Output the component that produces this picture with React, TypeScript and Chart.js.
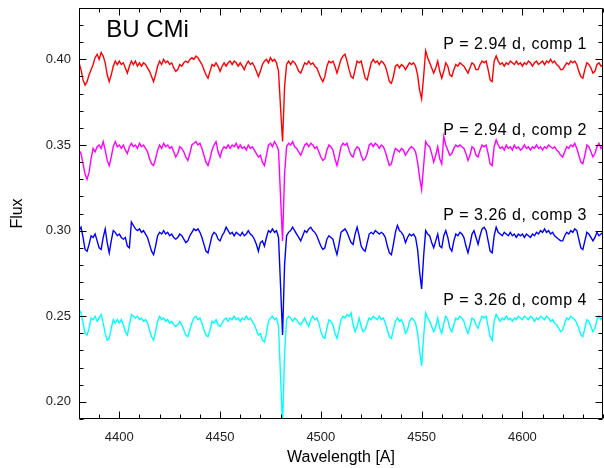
import React, { useEffect, useRef } from "react";
import { Chart, registerables } from "chart.js";

Chart.register(...registerables);

const X_MIN = 4380;
const X_MAX = 4640;
const Y_MIN = 0.19;
const Y_MAX = 0.43;

const X_TICKS = [4400, 4450, 4500, 4550, 4600];
const X_MINOR = [4380, 4390, 4400, 4410, 4420, 4430, 4440, 4450, 4460, 4470, 4480, 4490, 4500, 4510, 4520, 4530, 4540, 4550, 4560, 4570, 4580, 4590, 4600, 4610, 4620, 4630, 4640];
const Y_TICKS = [0.2, 0.25, 0.3, 0.35, 0.4];
const Y_MINOR = [0.19, 0.2, 0.21, 0.22, 0.23, 0.24, 0.25, 0.26, 0.27, 0.28, 0.29, 0.3, 0.31, 0.32, 0.33, 0.34, 0.35, 0.36, 0.37, 0.38, 0.39, 0.4, 0.41, 0.42, 0.43];

const TITLE = "BU CMi";
const TITLE_X = 4393.5;
const TITLE_Y = 0.413;

const SERIES_NAMES = ["P = 2.94 d, comp 1", "P = 2.94 d, comp 2", "P = 3.26 d, comp 3", "P = 3.26 d, comp 4"];
const SERIES_COLORS = ["#ff0000", "#ff00ff", "#0000ff", "#00ffff"];
const LABEL_X = 4632;
const LABEL_Y = [0.406, 0.356, 0.306, 0.2565];

const WAVELENGTH = [
  4380, 4381, 4382, 4383, 4384, 4385, 4386, 4387, 4388, 4389,
  4390, 4391, 4392, 4393, 4394, 4395, 4396, 4397, 4398, 4399,
  4400, 4401, 4402, 4403, 4404, 4405, 4406, 4407, 4408, 4409,
  4410, 4411, 4412, 4413, 4414, 4415, 4416, 4417, 4418, 4419,
  4420, 4421, 4422, 4423, 4424, 4425, 4426, 4427, 4428, 4429,
  4430, 4431, 4432, 4433, 4434, 4435, 4436, 4437, 4438, 4439,
  4440, 4441, 4442, 4443, 4444, 4445, 4446, 4447, 4448, 4449,
  4450, 4451, 4452, 4453, 4454, 4455, 4456, 4457, 4458, 4459,
  4460, 4461, 4462, 4463, 4464, 4465, 4466, 4467, 4468, 4469,
  4470, 4471, 4472, 4473, 4474, 4475, 4476, 4477, 4478, 4479,
  4480, 4481, 4482, 4483, 4484, 4485, 4486, 4487, 4488, 4489,
  4490, 4491, 4492, 4493, 4494, 4495, 4496, 4497, 4498, 4499,
  4500, 4501, 4502, 4503, 4504, 4505, 4506, 4507, 4508, 4509,
  4510, 4511, 4512, 4513, 4514, 4515, 4516, 4517, 4518, 4519,
  4520, 4521, 4522, 4523, 4524, 4525, 4526, 4527, 4528, 4529,
  4530, 4531, 4532, 4533, 4534, 4535, 4536, 4537, 4538, 4539,
  4540, 4541, 4542, 4543, 4544, 4545, 4546, 4547, 4548, 4549,
  4550, 4551, 4552, 4553, 4554, 4555, 4556, 4557, 4558, 4559,
  4560, 4561, 4562, 4563, 4564, 4565, 4566, 4567, 4568, 4569,
  4570, 4571, 4572, 4573, 4574, 4575, 4576, 4577, 4578, 4579,
  4580, 4581, 4582, 4583, 4584, 4585, 4586, 4587, 4588, 4589,
  4590, 4591, 4592, 4593, 4594, 4595, 4596, 4597, 4598, 4599,
  4600, 4601, 4602, 4603, 4604, 4605, 4606, 4607, 4608, 4609,
  4610, 4611, 4612, 4613, 4614, 4615, 4616, 4617, 4618, 4619,
  4620, 4621, 4622, 4623, 4624, 4625, 4626, 4627, 4628, 4629,
  4630, 4631, 4632, 4633, 4634, 4635, 4636, 4637, 4638, 4639,
  4640,
];

const COMP1 = [
  .398, .394, .388, .385, .387, .391, .394, .397, .401, .403,
  .400, .404, .402, .398, .391, .387, .391, .396, .399, .397,
  .399, .397, .398, .395, .392, .396, .399, .397, .399, .396,
  .398, .396, .398, .397, .395, .393, .390, .387, .391, .396,
  .399, .397, .400, .398, .399, .397, .398, .395, .393, .394,
  .397, .396, .398, .399, .398, .400, .401, .400, .402, .401,
  .399, .397, .394, .391, .389, .393, .397, .396, .398, .396,
  .393, .396, .398, .396, .398, .399, .397, .399, .398, .396,
  .398, .396, .394, .397, .399, .397, .398, .396, .393, .390,
  .393, .397, .399, .400, .398, .401, .399, .400, .398, .393,
  .372, .352, .384, .397, .399, .397, .399, .398, .396, .393,
  .392, .395, .398, .397, .399, .397, .398, .396, .395, .392,
  .389, .387, .390, .396, .399, .398, .399, .396, .392, .396,
  .400, .402, .403, .399, .394, .390, .389, .394, .399, .398,
  .399, .394, .389, .388, .393, .398, .400, .398, .399, .397,
  .399, .398, .396, .392, .387, .386, .390, .396, .397, .395,
  .397, .396, .394, .396, .398, .397, .398, .396, .391, .382,
  .377, .390, .405, .401, .398, .395, .392, .395, .399, .393,
  .389, .393, .398, .396, .391, .390, .394, .397, .396, .398,
  .397, .396, .394, .392, .395, .398, .397, .394, .394, .397,
  .399, .398, .399, .394, .388, .387, .399, .402, .399, .397,
  .398, .396, .398, .397, .399, .398, .397, .399, .397, .398,
  .396, .398, .397, .399, .398, .396, .398, .399, .397, .398,
  .399, .397, .399, .398, .400, .398, .399, .397, .396, .394,
  .394, .396, .398, .397, .399, .398, .399, .397, .393, .390,
  .389, .394, .398, .397, .395, .392, .393, .397, .398, .396,
  .397,
];

const COMP2 = [
  .347, .345, .339, .333, .330, .334, .342, .348, .346, .349,
  .350, .348, .352, .347, .341, .338, .343, .349, .352, .349,
  .350, .348, .350, .347, .345, .349, .351, .349, .350, .348,
  .351, .349, .350, .348, .346, .342, .339, .338, .342, .347,
  .350, .348, .351, .349, .350, .348, .349, .346, .343, .345,
  .349, .348, .346, .343, .341, .345, .350, .351, .352, .350,
  .351, .348, .344, .340, .338, .342, .347, .350, .352, .346,
  .343, .347, .349, .348, .350, .348, .350, .349, .351, .348,
  .350, .348, .349, .347, .350, .348, .349, .347, .345, .343,
  .344, .340, .338, .344, .350, .351, .349, .352, .350, .347,
  .320, .294, .333, .349, .351, .350, .352, .349, .348, .346,
  .344, .347, .350, .351, .349, .351, .350, .348, .349, .346,
  .343, .341, .342, .347, .350, .349, .347, .342, .338, .343,
  .349, .351, .350, .351, .347, .344, .343, .347, .349, .348,
  .344, .341, .342, .345, .350, .351, .349, .351, .350, .348,
  .350, .349, .346, .342, .338, .339, .344, .348, .347, .346,
  .348, .347, .344, .346, .348, .349, .348, .346, .340, .331,
  .324, .338, .352, .350, .349, .345, .340, .344, .349, .342,
  .339, .355, .350, .347, .344, .345, .348, .350, .349, .350,
  .349, .348, .345, .341, .344, .349, .348, .344, .343, .347,
  .350, .349, .350, .345, .339, .338, .349, .353, .350, .348,
  .349, .347, .350, .348, .349, .347, .350, .348, .349, .347,
  .348, .350, .348, .349, .347, .349, .348, .350, .348, .349,
  .347, .349, .348, .350, .349, .348, .349, .347, .346, .344,
  .343, .346, .349, .348, .350, .349, .351, .348, .344, .340,
  .339, .344, .350, .349, .346, .343, .345, .349, .351, .348,
  .350,
];

const COMP3 = [
  .300, .302, .296, .289, .288, .292, .297, .296, .298, .294,
  .290, .289, .296, .301, .293, .287, .294, .300, .299, .297,
  .298, .296, .295, .296, .291, .290, .305, .303, .301, .300,
  .301, .299, .300, .298, .296, .292, .288, .286, .291, .297,
  .299, .298, .300, .298, .299, .297, .298, .296, .295, .296,
  .298, .297, .295, .293, .294, .297, .299, .301, .300, .301,
  .299, .296, .292, .288, .287, .292, .297, .299, .298, .295,
  .294, .297, .299, .302, .300, .298, .299, .297, .299, .298,
  .297, .299, .297, .298, .300, .298, .297, .295, .292, .288,
  .293, .294, .291, .296, .300, .299, .301, .299, .300, .296,
  .268, .239, .280, .297, .299, .300, .302, .300, .298, .296,
  .294, .297, .300, .299, .301, .302, .300, .299, .297, .294,
  .291, .289, .290, .295, .297, .296, .295, .290, .286, .292,
  .299, .300, .301, .299, .296, .293, .292, .298, .302, .297,
  .291, .289, .288, .293, .298, .299, .298, .300, .299, .298,
  .299, .298, .296, .291, .287, .286, .292, .299, .303, .300,
  .299, .297, .293, .296, .298, .297, .298, .296, .289, .276,
  .266, .285, .300, .298, .297, .293, .290, .294, .298, .291,
  .290, .297, .300, .296, .290, .288, .294, .298, .297, .299,
  .298, .296, .291, .287, .292, .298, .300, .296, .292, .297,
  .301, .302, .300, .294, .288, .287, .297, .302, .299, .298,
  .297, .299, .298, .297, .299, .297, .298, .296, .298, .297,
  .298, .296, .298, .297, .296, .298, .297, .299, .298, .300,
  .299, .301, .299, .300, .298, .299, .297, .296, .295, .294,
  .294, .297, .299, .298, .300, .299, .301, .300, .295, .290,
  .289, .294, .299, .298, .296, .294, .296, .299, .297, .298,
  .299,
];

const COMP4 = [
  .254, .252, .246, .240, .239, .243, .249, .248, .250, .247,
  .249, .251, .246, .240, .236, .237, .243, .248, .246, .248,
  .246, .248, .245, .241, .239, .245, .251, .250, .249, .250,
  .248, .249, .247, .248, .246, .242, .238, .236, .241, .247,
  .250, .248, .249, .247, .248, .246, .247, .245, .244, .245,
  .247, .245, .242, .239, .238, .242, .246, .249, .250, .248,
  .249, .246, .242, .239, .238, .242, .247, .246, .248, .245,
  .244, .246, .248, .249, .247, .249, .248, .250, .248, .249,
  .247, .249, .248, .250, .248, .249, .247, .245, .242, .239,
  .240, .236, .235, .240, .247, .249, .250, .248, .249, .244,
  .215, .186, .228, .248, .250, .249, .247, .249, .248, .246,
  .245, .247, .249, .246, .244, .248, .250, .248, .249, .246,
  .241, .238, .237, .243, .248, .247, .245, .240, .237, .242,
  .248, .250, .249, .251, .250, .252, .245, .241, .244, .249,
  .244, .241, .242, .246, .249, .248, .250, .249, .248, .250,
  .248, .249, .246, .242, .238, .237, .242, .247, .249, .247,
  .248, .245, .240, .242, .247, .249, .248, .246, .240, .230,
  .221, .238, .252, .249, .247, .244, .241, .244, .249, .243,
  .240, .246, .250, .248, .243, .241, .245, .249, .248, .250,
  .249, .247, .243, .240, .244, .249, .248, .245, .243, .247,
  .250, .249, .250, .244, .238, .236, .247, .251, .249, .247,
  .249, .248, .250, .248, .249, .247, .249, .248, .250, .249,
  .248, .250, .249, .248, .250, .249, .247, .249, .248, .250,
  .249, .248, .250, .249, .247, .248, .246, .245, .243, .241,
  .242, .246, .249, .248, .250, .249, .248, .246, .243, .239,
  .238, .243, .248, .247, .244, .241, .243, .248, .250, .248,
  .250,
];

const SERIES = [COMP1, COMP2, COMP3, COMP4];

const FONT = "'Liberation Sans', Arial, Helvetica, sans-serif";

const decorPlugin = {
  id: "decor",
  afterDraw(chart: any) {
    const { ctx, chartArea: a, scales } = chart;
    const x = scales.x;
    const y = scales.y;
    ctx.save();
    ctx.strokeStyle = "#000";
    ctx.lineWidth = 1;
    const L = Math.round(a.left) + 0.5;
    const R = Math.round(a.right) - 0.5;
    const T = Math.round(a.top) + 0.5;
    const B = Math.round(a.bottom) - 0.5;
    ctx.beginPath();
    ctx.rect(L, T, R - L, B - T);
    X_MINOR.forEach((v) => {
      const px = Math.round(x.getPixelForValue(v)) + 0.5;
      const len = X_TICKS.includes(v) ? 7 : 4;
      ctx.moveTo(px, B);
      ctx.lineTo(px, B - len);
      ctx.moveTo(px, T);
      ctx.lineTo(px, T + len);
    });
    Y_MINOR.forEach((v) => {
      const py = Math.round(y.getPixelForValue(v)) + 0.5;
      const len = Y_TICKS.includes(v) ? 7 : 4;
      ctx.moveTo(L, py);
      ctx.lineTo(L + len, py);
      ctx.moveTo(R, py);
      ctx.lineTo(R - len, py);
    });
    ctx.stroke();

    ctx.fillStyle = "#000";
    ctx.textBaseline = "alphabetic";
    ctx.textAlign = "left";
    ctx.font = `24px ${FONT}`;
    ctx.fillText(TITLE, x.getPixelForValue(TITLE_X), y.getPixelForValue(TITLE_Y));
    ctx.font = `16px ${FONT}`;
    try {
      (ctx as any).letterSpacing = "0.5px";
    } catch (e) {}
    ctx.textAlign = "right";
    SERIES_NAMES.forEach((name, i) => {
      ctx.fillText(name, x.getPixelForValue(LABEL_X), y.getPixelForValue(LABEL_Y[i]));
    });
    ctx.restore();
  },
};

export default function App() {
  const ref = useRef<HTMLCanvasElement | null>(null);
  useEffect(() => {
    if (!ref.current) return;
    Chart.defaults.font.family = FONT;
    const datasets = SERIES.map((vals, i) => ({
      label: SERIES_NAMES[i],
      data: WAVELENGTH.map((w, j) => ({ x: w, y: vals[j] })),
      borderColor: SERIES_COLORS[i],
      backgroundColor: SERIES_COLORS[i],
      borderWidth: 1.4,
      pointRadius: 0,
      tension: 0,
      fill: false,
    }));
    const chart = new Chart(ref.current, {
      type: "line",
      data: { datasets },
      plugins: [decorPlugin],
      options: {
        responsive: false,
        animation: false,
        devicePixelRatio: 1,
        layout: { padding: { top: 8, right: 1, left: 0, bottom: 0 } },
        plugins: { legend: { display: false }, tooltip: { enabled: false } },
        scales: {
          x: {
            type: "linear",
            min: X_MIN,
            max: X_MAX,
            grid: { display: false, drawTicks: false },
            border: { display: false },
            afterBuildTicks: (s: any) => {
              s.ticks = X_TICKS.map((v) => ({ value: v }));
            },
            afterFit: (s: any) => {
              s.height = 49;
              s.paddingLeft = 0;
              s.paddingRight = 0;
            },
            ticks: {
              padding: 11,
              color: "#222",
              font: { size: 13 },
              maxRotation: 0,
              autoSkip: false,
              callback: (v: any) => String(v),
            },
            title: {
              display: true,
              text: "Wavelength [A]",
              color: "#000",
              font: { size: 16 },
              padding: { top: 0, bottom: 1 },
            },
          },
          y: {
            type: "linear",
            min: Y_MIN,
            max: Y_MAX,
            grid: { display: false, drawTicks: false },
            border: { display: false },
            afterBuildTicks: (s: any) => {
              s.ticks = Y_TICKS.map((v) => ({ value: v }));
            },
            afterFit: (s: any) => {
              s.width = 79;
              s.paddingTop = 0;
              s.paddingBottom = 0;
            },
            ticks: {
              padding: 8,
              color: "#222",
              font: { size: 13 },
              callback: (v: any) => Number(v).toFixed(2),
            },
            title: {
              display: true,
              text: "Flux",
              color: "#000",
              font: { size: 16 },
              padding: { top: 8, bottom: 0 },
            },
          },
        },
      },
    } as any);
    return () => chart.destroy();
  }, []);
  return (
    <div style={{ position: "absolute", left: 0, top: 0, width: 604, height: 468, background: "#fff" }}>
      <canvas ref={ref} width={604} height={468} style={{ display: "block" }} />
    </div>
  );
}
